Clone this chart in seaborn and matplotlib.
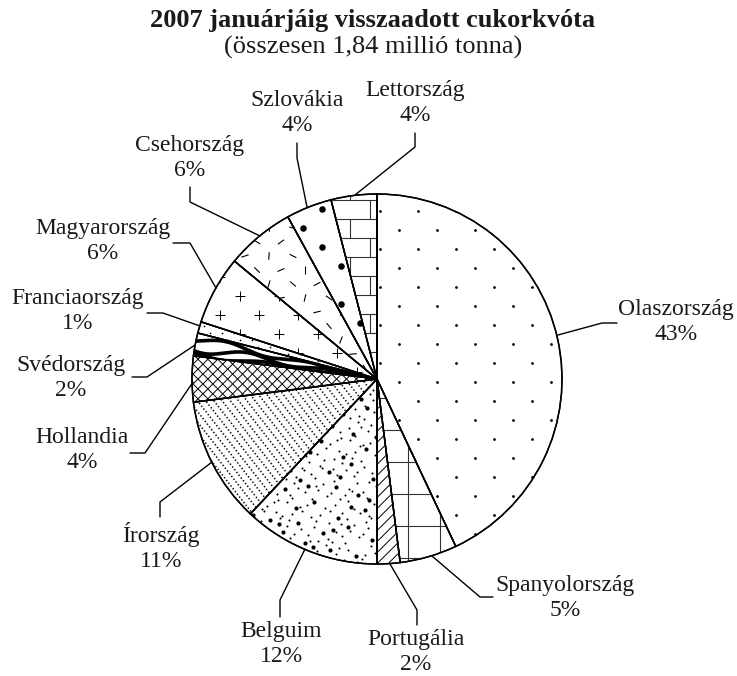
import numpy as np
import matplotlib.pyplot as plt
import seaborn as sns
from matplotlib.patches import Wedge
from matplotlib.collections import LineCollection

# ---------------------------------------------------------------
# Data
# ---------------------------------------------------------------
countries = ["Olaszország", "Spanyolország", "Portugália", "Belguim",
             "Írország", "Hollandia", "Svédország", "Franciaország",
             "Magyarország", "Csehország", "Szlovákia", "Lettország"]
shares = [43, 5, 2, 12, 11, 4, 2, 1, 6, 6, 4, 4]

title = "2007 januárjáig visszaadott cukorkvóta"
subtitle = "(összesen 1,84 millió tonna)"

# ---------------------------------------------------------------
# Layout (pixels, y measured from the top of the picture)
# ---------------------------------------------------------------
W, H = 737, 676
CX, CY, R = 377, 379, 185

label_xy = [(676, 322), (565, 598), (416, 652), (281, 644), (161, 547),
            (82, 450), (71, 378), (78, 311), (103, 241), (190, 158),
            (297, 113), (415, 103)]

leaders = [
    [(558, 335), (602, 323), (617, 323)],
    [(432, 556), (480, 597), (493, 597)],
    [(390, 564), (417, 610), (417, 625)],
    [(305, 549), (280, 600), (280, 617)],
    [(212, 462), (160, 502), (160, 517)],
    [(193, 382), (145, 453), (130, 453)],
    [(195, 345), (147, 377), (132, 377)],
    [(200, 326), (163, 313), (147, 313)],
    [(216, 288), (190, 243), (173, 243)],
    [(260, 236), (190, 202), (190, 187)],
    [(307, 207), (297, 158), (297, 143)],
    [(355, 195), (415, 147), (415, 133)],
]


def fy(y):
    return H - y


def bbox(w):
    ext = w.get_path().get_extents()
    return ext.x0, ext.x1, ext.y0, ext.y1


def lattice(w, dx, dy, ox=0.0, oy=0.0, stagger=True):
    x0, x1, y0, y1 = bbox(w)
    xs, ys = [], []
    for k in np.arange(np.floor((y0 - oy) / dy) - 1, np.ceil((y1 - oy) / dy) + 2):
        s = ox + (dx / 2 if (stagger and int(k) % 2) else 0)
        row = np.arange(np.floor((x0 - s) / dx) - 1, np.ceil((x1 - s) / dx) + 2) * dx + s
        xs.extend(row)
        ys.extend([k * dy + oy] * len(row))
    return np.array(xs), np.array(ys)


def line_family(w, angle, spacing, offset=0.0):
    x0, x1, y0, y1 = bbox(w)
    mid = np.array([(x0 + x1) / 2, (y0 + y1) / 2])
    L = np.hypot(x1 - x0, y1 - y0)
    a = np.radians(angle)
    u = np.array([np.cos(a), np.sin(a)])
    n = np.array([-u[1], u[0]])
    c = mid @ n
    segs = []
    for k in np.arange(np.floor((c - L - offset) / spacing), np.ceil((c + L - offset) / spacing) + 1):
        p = n * (k * spacing + offset)
        m = p + u * ((mid - p) @ u)
        segs.append([m - u * L, m + u * L])
    return segs


def add_lines(ax, w, segs, lw=0.8, color="black", ls="-"):
    lc = LineCollection(segs, colors=color, linewidths=lw, linestyles=ls, zorder=3)
    lc.set_clip_path(w)
    ax.add_collection(lc)


def add_dots(ax, w, xs, ys, size, marker="o", lw=0.0):
    sc = ax.scatter(xs, ys, s=size, c="black", marker=marker, linewidths=lw, zorder=3)
    sc.set_clip_path(w)


def halton(n, base):
    out = np.zeros(n)
    for i in range(n):
        f, r, k = 1.0, 0.0, i + 1
        while k > 0:
            f /= base
            r += f * (k % base)
            k //= base
        out[i] = r
    return out


# ---------------------------------------------------------------
# Textures of the wedges
# ---------------------------------------------------------------
def tex_italy(ax, w):
    xs, ys = lattice(w, 38, 19, ox=418 % 38, oy=fy(382) % 19)
    add_dots(ax, w, xs, ys, 4)


def tex_spain(ax, w):
    x0, x1, y0, y1 = bbox(w)
    segs = [[(x0, y), (x1, y)] for y in np.arange(fy(398) % 32, H, 32)]
    segs += [[(x, y0), (x, y1)] for x in np.arange(408 % 32, W, 32)]
    add_lines(ax, w, segs, lw=0.8, color="#333333")


def tex_portugal(ax, w):
    add_lines(ax, w, line_family(w, 45, 7.8), lw=0.7)


def tex_belgium(ax, w):
    x0, x1, y0, y1 = bbox(w)
    n = int((x1 - x0) * (y1 - y0) / 75)
    xs = x0 + halton(n, 2) * (x1 - x0)
    ys = y0 + halton(n, 3) * (y1 - y0)
    idx = np.arange(n)
    big = idx % 5 == 0
    add_dots(ax, w, xs[big], ys[big], 9)
    add_dots(ax, w, xs[~big], ys[~big], 2.2)


def tex_ireland(ax, w):
    add_lines(ax, w, line_family(w, -52, 6.5), lw=1.1, ls=(0, (0.9, 1.4)))


def tex_netherlands(ax, w):
    add_lines(ax, w, line_family(w, 45, 7.0) + line_family(w, -45, 7.0), lw=0.7)


def tex_sweden(ax, w):
    t1, t2 = np.radians(w.theta1), np.radians(w.theta2)
    r = np.linspace(0, R * 1.05, 200)
    for base, amp, ph in [(0.25, 0.18, 0.0), (0.62, 0.22, 1.7), (0.92, 0.12, 3.1)]:
        f = base + amp * np.sin(r / 14 + ph)
        ang = t1 + (t2 - t1) * f
        xs = CX + r * np.cos(ang)
        ys = fy(CY) + r * np.sin(ang)
        line, = ax.plot(xs, ys, color="black", lw=2.6, zorder=3, solid_capstyle="round")
        line.set_clip_path(w)


def tex_france(ax, w):
    xs, ys = lattice(w, 12, 7)
    add_dots(ax, w, xs, ys, 1.5)


def tex_hungary(ax, w):
    xs, ys = lattice(w, 39, 19, ox=6)
    add_dots(ax, w, xs, ys, 50, marker="+", lw=0.7)


def tex_czech(ax, w):
    xs, ys = lattice(w, 24, 14, ox=5)
    segs = []
    for i, (x, y) in enumerate(zip(xs, ys)):
        a = np.radians((i * 67) % 180)
        d = 3.8 * np.array([np.cos(a), np.sin(a)])
        segs.append([(x - d[0], y - d[1]), (x + d[0], y + d[1])])
    add_lines(ax, w, segs, lw=0.8)


def tex_slovakia(ax, w):
    xs, ys = lattice(w, 38, 19, ox=322 % 38, oy=fy(247) % 19)
    add_dots(ax, w, xs, ys, 22)


def tex_latvia(ax, w):
    x0, x1, y0, y1 = bbox(w)
    rows = np.arange(fy(200) % 19 - 19, H, 19)
    segs = [[(x0, y), (x1, y)] for y in rows]
    for k, y in enumerate(rows):
        s = 370 if k % 2 else 350
        for x in np.arange(s - 400, W, 40):
            segs.append([(x, y), (x, y + 19)])
    add_lines(ax, w, segs, lw=0.8, color="#333333")


textures = [tex_italy, tex_spain, tex_portugal, tex_belgium, tex_ireland,
            tex_netherlands, tex_sweden, tex_france, tex_hungary, tex_czech,
            tex_slovakia, tex_latvia]

# ---------------------------------------------------------------
# Figure
# ---------------------------------------------------------------
sns.set_style("white")
plt.rcParams["font.family"] = ["Liberation Serif", "DejaVu Serif"]

fig = plt.figure(figsize=(W / 100, H / 100), dpi=100)
ax = fig.add_axes([0, 0, 1, 1])

wedges, _ = ax.pie(shares, startangle=90, counterclock=False,
                   center=(CX, fy(CY)), radius=R,
                   colors=["white"] * len(shares),
                   wedgeprops=dict(edgecolor="black", linewidth=1.0))

for w, tex in zip(wedges, textures):
    tex(ax, w)
    ax.add_patch(Wedge(w.center, w.r, w.theta1, w.theta2, fill=False,
                       edgecolor="black", linewidth=1.1, zorder=5))

for name, pct, (lx, ly), pts in zip(countries, shares, label_xy, leaders):
    ax.text(lx, fy(ly), f"{name}\n{pct}%", ha="center", va="center",
            fontsize=17, color="#1a1a1a")
    px = [p[0] for p in pts]
    py = [fy(p[1]) for p in pts]
    ax.plot(px, py, color="black", lw=1.0, zorder=4)

ax.text(373, fy(20), title, ha="center", va="center", fontsize=19,
        fontweight="bold", color="#1a1a1a")
ax.text(373, fy(47), subtitle, ha="center", va="center", fontsize=19,
        color="#1a1a1a")

ax.set_xlim(0, W)
ax.set_ylim(0, H)
ax.set_aspect("equal")
ax.axis("off")

fig.savefig("out.png", dpi=100, facecolor="white")
plt.close(fig)
